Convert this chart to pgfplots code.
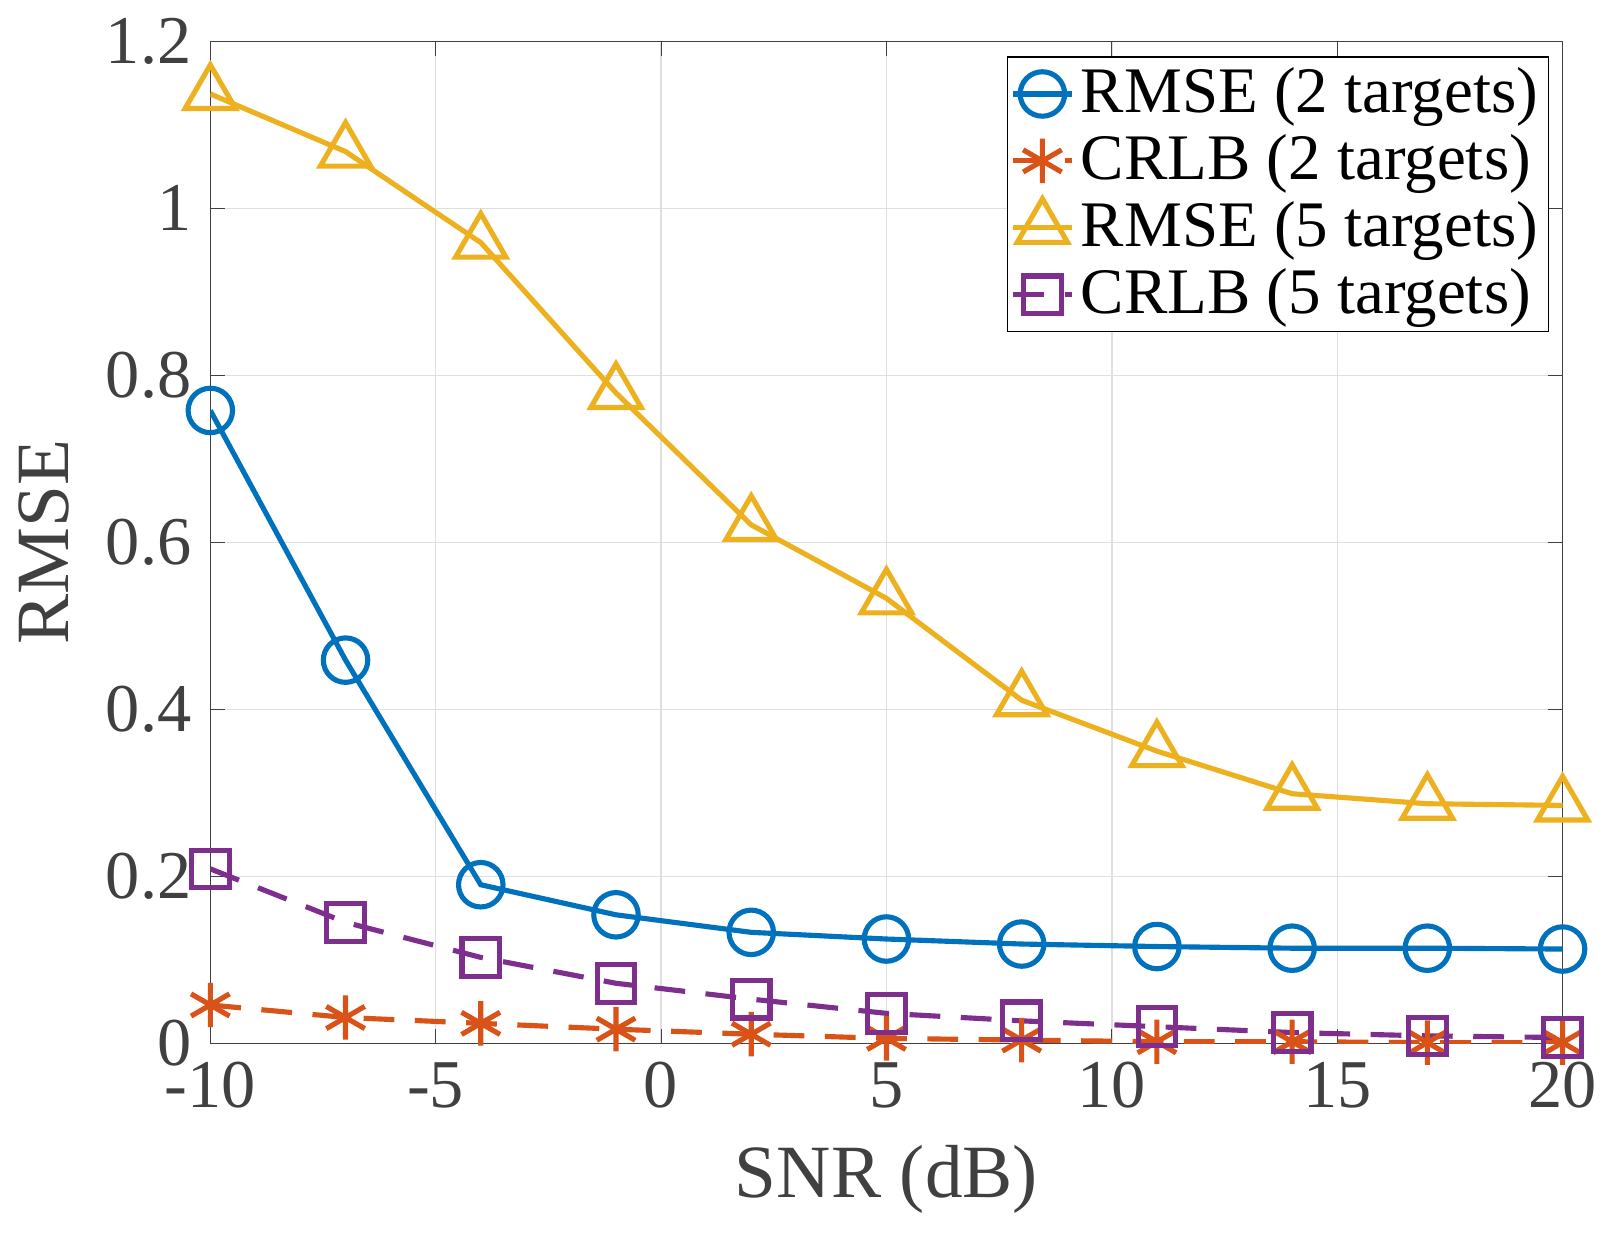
\documentclass[border=0pt]{standalone}
\usepackage{pgfplots}
\pgfplotsset{compat=1.18}
\usepackage{fontspec}
\setmainfont{Liberation Serif}
\definecolor{c1}{RGB}{0,114,189}
\definecolor{c2}{RGB}{217,83,25}
\definecolor{c3}{RGB}{237,177,32}
\definecolor{c4}{RGB}{126,47,142}
\definecolor{tk}{RGB}{64,64,64}
\begin{document}
\fontsize{16}{19}\selectfont
\begin{tikzpicture}
\begin{axis}[
scale only axis, width=13.9cm, height=10.3cm,
xmin=-10, xmax=20, ymin=0, ymax=1.2,
xtick={-10,-5,0,5,10,15,20}, ytick={0,0.2,0.4,0.6,0.8,1,1.2},
/pgf/number format/assume math mode=true,
yticklabel style={/pgf/number format/fixed,/pgf/number format/precision=1},
ticklabel style={font=\fontsize{20}{22}\selectfont, text=tk},
label style={font=\fontsize{22}{26}\selectfont, text=tk},
xlabel={SNR (dB)}, ylabel={RMSE},
grid=major, grid style={gray!25},
axis line style={tk}, tick style={tk}, tick align=inside,
legend style={at={(0.99,0.985)}, anchor=north east, font=\fontsize{19}{21}\selectfont, draw=black, inner sep=1pt, row sep=0pt},
legend cell align=left,
legend image code/.code={\draw[mark repeat=2,mark phase=2,#1] plot coordinates {(0cm,0cm) (0.3cm,0cm) (0.6cm,0cm)};},
mark size=6.5pt,
]
\addplot[c1, line width=1.5pt, mark=o, mark options={line width=1.5pt}] coordinates {(-10,0.758)(-7,0.459)(-4,0.190)(-1,0.154)(2,0.133)(5,0.125)(8,0.119)(11,0.116)(14,0.114)(17,0.114)(20,0.113)};
\addplot[c2, line width=1.5pt, dash pattern=on 9pt off 6pt, mark=asterisk, mark options={solid,line width=1.5pt}] coordinates {(-10,0.046)(-7,0.031)(-4,0.024)(-1,0.017)(2,0.011)(5,0.006)(8,0.004)(11,0.002)(14,0.002)(17,0.001)(20,0.001)};
\addplot[c3, line width=1.5pt, mark=triangle, mark options={line width=1.5pt}, mark size=8.5pt] coordinates {(-10,1.137)(-7,1.068)(-4,0.959)(-1,0.779)(2,0.621)(5,0.533)(8,0.411)(11,0.350)(14,0.299)(17,0.287)(20,0.285)};
\addplot[c4, line width=1.5pt, dash pattern=on 9pt off 6pt, mark=square, mark size=5.5pt, mark options={solid,line width=1.5pt}] coordinates {(-10,0.209)(-7,0.145)(-4,0.103)(-1,0.072)(2,0.053)(5,0.036)(8,0.027)(11,0.020)(14,0.013)(17,0.009)(20,0.007)};
\legend{RMSE (2 targets),CRLB (2 targets),RMSE (5 targets),CRLB (5 targets)}
\end{axis}
\end{tikzpicture}
\end{document}
